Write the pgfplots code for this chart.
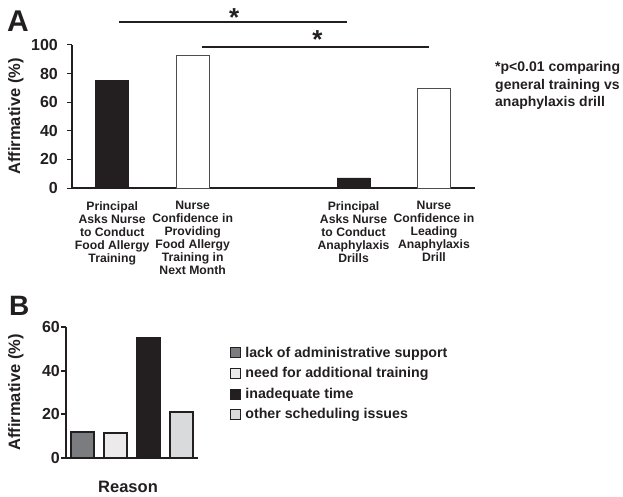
\documentclass[border=0pt]{standalone}
\usepackage{fontspec}
\setmainfont{Liberation Sans}
\usepackage{pgfplots}
\pgfplotsset{compat=1.18}
\definecolor{ink}{HTML}{231F20}
\definecolor{barGrey}{HTML}{7B7C7F}
\definecolor{barLight}{HTML}{EBEBEB}
\definecolor{barPale}{HTML}{D9DADB}

\pgfplotsset{
    panel/.style={
        scale only axis,
        anchor=south west,
        axis x line*=bottom,
        axis y line*=left,
        axis line style={ink, line width=1.4pt, -},
        ymin=0,
        tick align=outside,
        ytick style={ink, line width=1pt},
        major tick length=5pt,
        xtick style={draw=none},
        ybar,
        bar shift=0pt,
        clip=false,
        /pgf/number format/assume math mode=true,
        yticklabel style={font=\fontsize{16}{16}\selectfont\bfseries, text=ink, inner sep=2pt},
        ylabel style={font=\fontsize{16.5}{16.5}\selectfont\bfseries, text=ink, anchor=center},
    },
}

\begin{document}
\begin{tikzpicture}[x=1pt, y=1pt]
\useasboundingbox (0pt,0pt) rectangle (623pt,-497pt);

% panel A
\node[font=\fontsize{30}{30}\selectfont\bfseries, text=ink, anchor=base west, inner sep=0pt] at (7pt,-32pt) {A};
\begin{axis}[
        panel,
        at={(72pt,-188pt)},
        width=403pt, height=143pt,
        xmin=-0.5, xmax=4.51,
        ymax=100,
        ytick={0,20,...,100},
        yticklabel style={xshift=-7pt},
        xtick={0,1,3,4},
        xticklabels={
            Principal\\Asks Nurse\\to Conduct\\Food Allergy\\Training,
            Nurse\\Confidence in\\Providing\\Food Allergy\\Training in\\Next Month,
            Principal\\Asks Nurse\\to Conduct\\Anaphylaxis\\Drills,
            Nurse\\Confidence in\\Leading\\Anaphylaxis\\Drill},
        xticklabel style={align=center, font=\fontsize{12.2}{13}\selectfont\bfseries,
            text=ink, inner sep=0pt, yshift=-8pt},
        ylabel={Affirmative (\%)},
        ylabel style={at={(axis description cs:-0.139,0.5)}},
        bar width=33pt,
    ]
    % principal asks nurse
    \addplot[fill=ink, draw=ink, line width=0.5pt] coordinates {(0,75) (3,7)};
    % nurse confidence
    \addplot[fill=white, draw=ink!80, line width=1pt] coordinates {(1,92.5) (4,69.5)};

    % significance brackets
    \draw[ink, line width=1.8pt] (axis cs:0.087,116.1) -- (axis cs:2.92,116.1);
    \draw[ink, line width=1.8pt] (axis cs:1.118,98.6) -- (axis cs:3.94,98.6);
    \node[font=\fontsize{26}{26}\selectfont\bfseries, text=ink, inner sep=0pt] at (axis cs:1.515,119) {*};
    \node[font=\fontsize{26}{26}\selectfont\bfseries, text=ink, inner sep=0pt] at (axis cs:2.55,104) {*};
\end{axis}

\node[font=\fontsize{14}{17.5}\selectfont\bfseries, text=ink, align=left, anchor=north west, inner sep=0pt]
    at (495pt,-61.5pt) {*p<0.01 comparing\\general training vs\\anaphylaxis drill};

% panel B
\node[font=\fontsize{28}{28}\selectfont\bfseries, text=ink, anchor=base west, inner sep=0pt] at (9pt,-315pt) {B};
\begin{axis}[
        panel,
        at={(66pt,-458pt)},
        width=132pt, height=131pt,
        xmin=0.5, xmax=4.5,
        ymax=60,
        ytick={0,20,40,60},
        xtick=\empty,
        axis line style={ink, line width=2pt, -},
        ytick style={ink, line width=2pt},
        yticklabel style={inner sep=1pt},
        ylabel={Affirmative (\%)},
        ylabel style={at={(axis description cs:-0.38,0.5)}},
        xlabel={Reason},
        xlabel style={at={(axis description cs:0.47,0)}, anchor=center, yshift=-29pt,
            font=\fontsize{16.5}{16.5}\selectfont\bfseries, text=ink},
        bar width=23pt,
        legend style={at={(axis description cs:1.242,0.865)}, anchor=north west,
            draw=none, fill=none, inner sep=0pt, row sep=4.8pt,
            font=\fontsize{14.2}{14.2}\selectfont\bfseries, text=ink,
            cells={anchor=west}},
        legend image code/.code={\draw[#1, line width=0.7pt] (0pt,-5pt) rectangle (10pt,5pt); \path (12pt,0pt);},
    ]
    \addplot[fill=barGrey, draw=ink, line width=1.8pt] coordinates {(1,12)};
    \addlegendentry{lack of administrative support}
    \addplot[fill=barLight, draw=ink, line width=1.8pt] coordinates {(2,11.4)};
    \addlegendentry{need for additional training}
    \addplot[fill=ink, draw=ink, line width=1.8pt] coordinates {(3,55)};
    \addlegendentry{inadequate time}
    \addplot[fill=barPale, draw=ink, line width=1.8pt] coordinates {(4,21.2)};
    \addlegendentry{other scheduling issues}
\end{axis}
\end{tikzpicture}
\end{document}
